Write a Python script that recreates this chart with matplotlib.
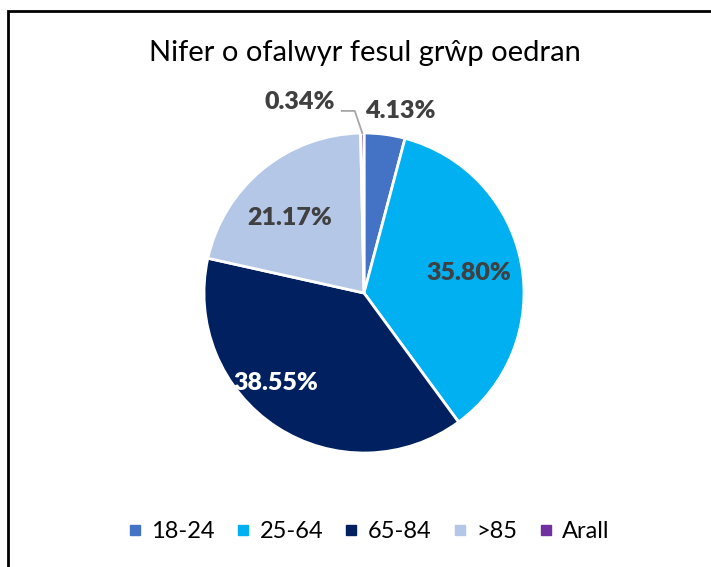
import matplotlib
matplotlib.use('Agg')
import matplotlib.pyplot as plt
from matplotlib.lines import Line2D
from matplotlib.patches import Rectangle
import numpy as np

# data
labels = ['18-24', '25-64', '65-84', '>85', 'Arall']
values = [4.13, 35.80, 38.55, 21.17, 0.34]
colors = ['#4472C4', '#00B0F0', '#002060', '#B4C7E7', '#7030A0']
title = 'Nifer o ofalwyr fesul grŵp oedran'

# label placement (radius fraction, angle in degrees) - mimics Excel "best fit"
label_pos = [(1.16, 78.8), (0.666, 10.9), (0.785, -134.3), (0.66, 134.5), (1.209, 98.7)]
label_col = ['#404040', '#404040', 'white', '#404040', '#404040']

R = 159  # pie radius in pixels
fig = plt.figure(figsize=(7.11, 5.67), dpi=100)
half = 200 / R
ax = fig.add_axes([(364 - 200) / 711, (567 - 293 - 200) / 567, 400 / 711, 400 / 567])
ax.set_xlim(-half, half)
ax.set_ylim(-half, half)
ax.axis('off')

wedges, _ = ax.pie(values, colors=colors, startangle=90, counterclock=False, radius=1,
                   wedgeprops=dict(edgecolor='white', linewidth=2))

for i, w in enumerate(wedges):
    rf, ang = label_pos[i]
    x = rf * np.cos(np.radians(ang))
    y = rf * np.sin(np.radians(ang))
    ha = 'center'
    if labels[i] == 'Arall':
        ha = 'right'
        # leader line to the wedge
        mid = np.radians((w.theta1 + w.theta2) / 2)
        ax.plot([x + 0.044, x + 0.125, np.cos(mid)], [y - 0.057, y - 0.057, np.sin(mid)],
                color='#A6A6A6', lw=1.3)
    ax.text(x, y, f'{values[i]:.2f}%', ha=ha, va='center', fontsize=18, fontweight='heavy',
            color=label_col[i], family=['Lato', 'DejaVu Sans'])

fig.text(365 / 711, 1 - 53 / 567, title, ha='center', va='center', fontsize=21,
         color='black', family=['Lato', 'DejaVu Sans'])

handles = [Line2D([], [], marker='s', color=c, ls='', markersize=6.5) for c in colors]
fig.legend(handles, labels, loc='center', bbox_to_anchor=(368 / 711, 1 - 532 / 567), ncol=5,
           frameon=False, handlelength=0.7, handletextpad=0.35, columnspacing=0.85,
           prop=dict(family=['Lato', 'DejaVu Sans'], size=17))

fig.patches.append(Rectangle((8 / 711, -0.05), 1.2, 1 - 11 / 567 + 0.05, fill=False,
                             edgecolor='black', linewidth=2, transform=fig.transFigure))

fig.savefig('out.png', dpi=100)
